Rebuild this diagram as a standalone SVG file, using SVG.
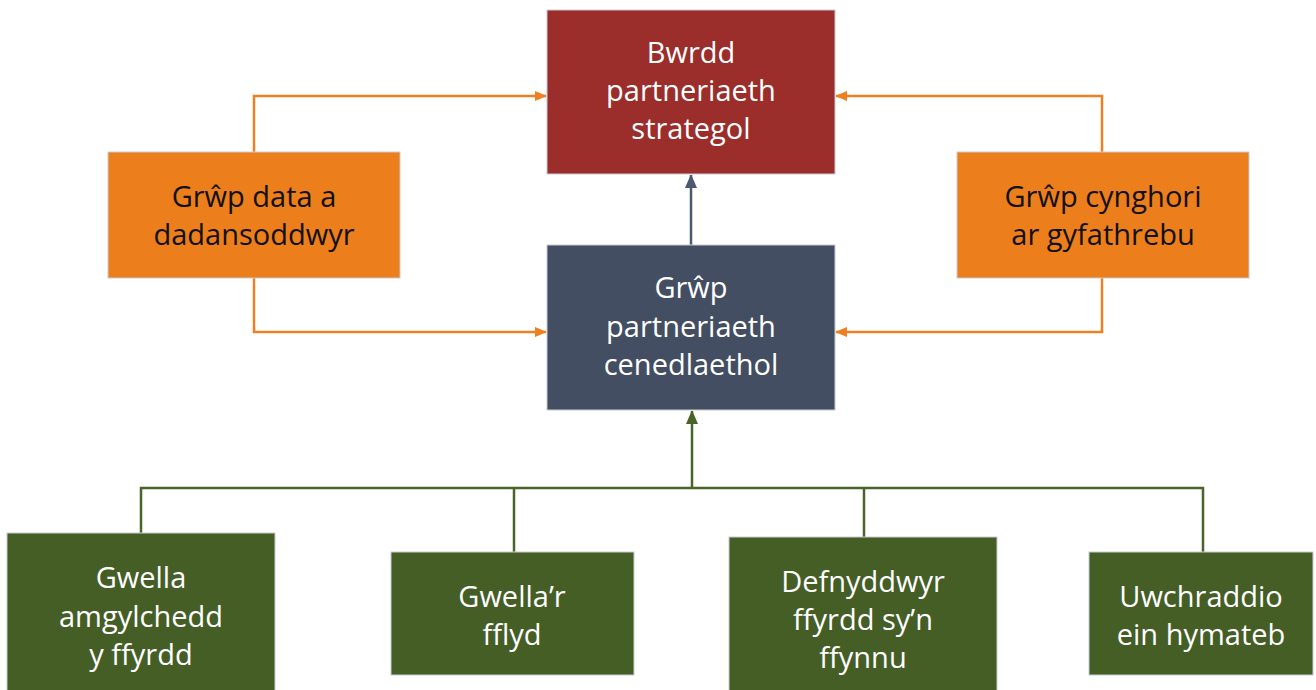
<svg xmlns="http://www.w3.org/2000/svg" width="1316" height="690" viewBox="0 0 1316 690">
<defs>
<style>
.box{stroke:#c9ccd1;stroke-width:1}
.t{font-family:"Open Sans",Lato,sans-serif;font-size:29px;text-anchor:middle}
.w{fill:#ffffff}
.k{fill:#111111}
.oc{fill:none;stroke:#ee7f22;stroke-width:2.5}
.nc{fill:none;stroke:#4a5a70;stroke-width:2.5}
.gc{fill:none;stroke:#4a6428;stroke-width:2.5}
</style>
<marker id="ao" markerWidth="12" markerHeight="10" refX="11" refY="5" orient="auto" markerUnits="userSpaceOnUse"><path d="M0,0 L12,5 L0,10 Z" fill="#ee7f22"/></marker>
<marker id="an" markerWidth="12" markerHeight="14" refX="13" refY="6" orient="auto" markerUnits="userSpaceOnUse"><path d="M0,0 L14,6 L0,12 Z" fill="#4a5a70"/></marker>
<marker id="ag" markerWidth="12" markerHeight="14" refX="13" refY="6" orient="auto" markerUnits="userSpaceOnUse"><path d="M0,0 L14,6 L0,12 Z" fill="#4a6428"/></marker>
</defs>
<rect width="1316" height="690" fill="#ffffff"/>
<g id="connectors">
<path class="oc" d="M254,152 V96 H546" marker-end="url(#ao)"/>
<path class="oc" d="M254,278 V332 H546" marker-end="url(#ao)"/>
<path class="oc" d="M1102,152 V96 H836" marker-end="url(#ao)"/>
<path class="oc" d="M1102,278 V332 H836" marker-end="url(#ao)"/>
<path class="nc" d="M691,245 V175" marker-end="url(#an)"/>
<path class="gc" d="M692,488 V411" marker-end="url(#ag)"/>
<path class="gc" d="M141,533 V488 H1203 V552"/>
<path class="gc" d="M514,488 V552"/>
<path class="gc" d="M864,488 V537"/>
</g>
<g id="bwrdd">
<rect class="box" x="547" y="10" width="288" height="164" fill="#9b2d2b"/>
<text class="t w" x="691" y="63">Bwrdd</text>
<text class="t w" x="691" y="101">partneriaeth</text>
<text class="t w" x="691" y="139">strategol</text>
</g>
<g id="grwp-cenedlaethol">
<rect class="box" x="547" y="245" width="288" height="165" fill="#434e62"/>
<text class="t w" x="691" y="298">Grŵp</text>
<text class="t w" x="691" y="336.5">partneriaeth</text>
<text class="t w" x="691" y="375">cenedlaethol</text>
</g>
<g id="grwp-data">
<rect class="box" x="108" y="152" width="292" height="126" fill="#ec7e1c"/>
<text class="t k" x="254" y="207">Grŵp data a</text>
<text class="t k" x="254" y="245">dadansoddwyr</text>
</g>
<g id="grwp-cynghori">
<rect class="box" x="957" y="152" width="292" height="126" fill="#ec7e1c"/>
<text class="t k" x="1103" y="207">Grŵp cynghori</text>
<text class="t k" x="1103" y="245">ar gyfathrebu</text>
</g>
<g id="gwella-amgylchedd">
<rect class="box" x="7" y="533" width="268" height="160" fill="#445e26"/>
<text class="t w" x="141" y="588">Gwella</text>
<text class="t w" x="141" y="627">amgylchedd</text>
<text class="t w" x="141" y="665">y ffyrdd</text>
</g>
<g id="gwella-fflyd">
<rect class="box" x="391" y="552" width="243" height="123" fill="#445e26"/>
<text class="t w" x="512" y="607">Gwella’r</text>
<text class="t w" x="512" y="645">fflyd</text>
</g>
<g id="defnyddwyr">
<rect class="box" x="729" y="537" width="268" height="156" fill="#445e26"/>
<text class="t w" x="863" y="592">Defnyddwyr</text>
<text class="t w" x="863" y="630">ffyrdd sy’n</text>
<text class="t w" x="863" y="668">ffynnu</text>
</g>
<g id="uwchraddio">
<rect class="box" x="1089" y="552" width="224" height="123" fill="#445e26"/>
<text class="t w" x="1201" y="607">Uwchraddio</text>
<text class="t w" x="1201" y="645">ein hymateb</text>
</g>
</svg>
